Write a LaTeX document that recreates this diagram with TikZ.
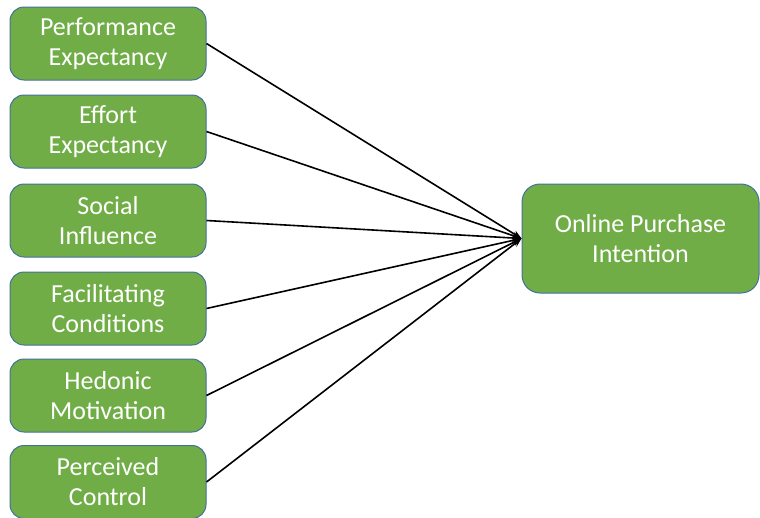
\documentclass[tikz,border=0pt]{standalone}
\usepackage{fontspec}
\setmainfont{Carlito}
\usetikzlibrary{arrows.meta}
\definecolor{boxgreen}{HTML}{70AD47}
\definecolor{boxline}{HTML}{41719C}
\tikzset{>={Stealth[length=9pt,width=7pt]}}
\tikzset{
    factor/.style={rectangle,rounded corners=14pt,draw=boxline,fill=boxgreen,line width=1pt,
        text=white,align=center,minimum width=196pt,minimum height=73pt,
        font=\fontsize{26}{30}\selectfont},
    outcome/.style={factor,minimum width=237pt,minimum height=109pt,rounded corners=18pt},
    directed/.style={arrows={->},line width=1.6pt},
}

\begin{document}
\begin{tikzpicture}[x=1pt,y=-1pt]
		\useasboundingbox (0,0) rectangle (760,517);
		\node[factor] (pe) at (108,43.5) {Performance\\Expectancy};
		\node[factor] (ee) at (108,131.5) {Effort\\Expectancy};
		\node[factor] (si) at (108,220.5) {Social\\Influence};
		\node[factor] (fc) at (108,308.5) {Facilitating\\Conditions};
		\node[factor] (hm) at (108,395.5) {Hedonic\\Motivation};
		\node[factor] (pc) at (108,482) {Perceived\\Control};
		\node[outcome] (opi) at (640.5,238.5) {Online Purchase\\Intention};

		\draw[directed] (pe.east) to (opi.west);
		\draw[directed] (ee.east) to (opi.west);
		\draw[directed] (si.east) to (opi.west);
		\draw[directed] (fc.east) to (opi.west);
		\draw[directed] (hm.east) to (opi.west);
		\draw[directed] (pc.east) to (opi.west);
	\end{tikzpicture}
\end{document}
